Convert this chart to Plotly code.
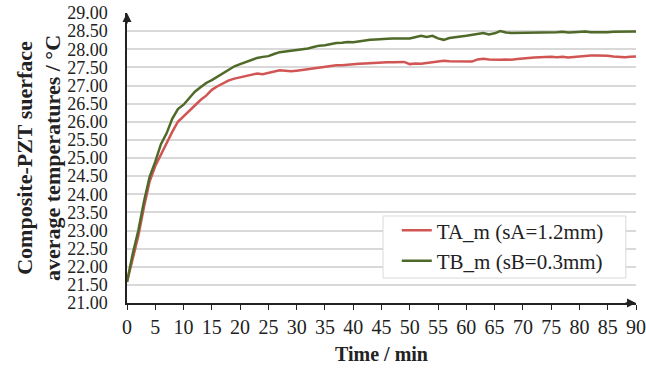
import plotly.graph_objects as go

time_min = list(range(0, 91))

ta_m = [21.58, 22.20, 22.85, 23.65, 24.35, 24.78, 25.10, 25.42, 25.72, 26.00,
        26.15, 26.30, 26.47, 26.60, 26.72, 26.88, 26.98, 27.07, 27.14, 27.19,
        27.23, 27.27, 27.31, 27.33, 27.31, 27.34, 27.38, 27.42, 27.41, 27.39,
        27.41, 27.43, 27.46, 27.47, 27.49, 27.51, 27.53, 27.56, 27.56, 27.58,
        27.58, 27.60, 27.61, 27.62, 27.63, 27.63, 27.64, 27.64, 27.65, 27.65,
        27.59, 27.61, 27.60, 27.62, 27.65, 27.66, 27.68, 27.67, 27.67, 27.66,
        27.65, 27.66, 27.72, 27.74, 27.72, 27.71, 27.71, 27.72, 27.71, 27.73,
        27.75, 27.76, 27.77, 27.78, 27.79, 27.79, 27.78, 27.79, 27.77, 27.79,
        27.81, 27.82, 27.83, 27.83, 27.83, 27.82, 27.80, 27.78, 27.78, 27.79,
        27.80]

tb_m = [21.58, 22.35, 23.00, 23.80, 24.48, 24.90, 25.38, 25.68, 26.08, 26.35,
        26.47, 26.66, 26.83, 26.95, 27.07, 27.15, 27.25, 27.35, 27.44, 27.53,
        27.59, 27.65, 27.69, 27.76, 27.79, 27.81, 27.87, 27.92, 27.94, 27.96,
        27.97, 27.99, 28.02, 28.06, 28.10, 28.11, 28.15, 28.17, 28.18, 28.20,
        28.19, 28.22, 28.24, 28.26, 28.27, 28.29, 28.29, 28.30, 28.31, 28.30,
        28.30, 28.33, 28.37, 28.34, 28.37, 28.30, 28.26, 28.31, 28.34, 28.35,
        28.37, 28.39, 28.42, 28.45, 28.41, 28.44, 28.50, 28.46, 28.45, 28.45,
        28.45, 28.46, 28.45, 28.46, 28.47, 28.46, 28.47, 28.48, 28.46, 28.47,
        28.48, 28.49, 28.47, 28.47, 28.45, 28.47, 28.48, 28.48, 28.49, 28.48,
        28.49]

series_names = ["TA_m (sA=1.2mm)", "TB_m (sB=0.3mm)"]
series_colors = ["#D05553", "#4F6A28"]

x_ticks = list(range(0, 91, 5))
y_ticks = [21 + 0.5 * i for i in range(17)]
y_ticklabels = [f"{v:.2f}" for v in y_ticks]

FONT = "Times New Roman, Liberation Serif, serif"

fig = go.Figure()
for name, vals, col in zip(series_names, [ta_m, tb_m], series_colors):
    fig.add_trace(go.Scatter(x=time_min, y=vals, mode="lines", name=name,
                             line=dict(color=col, width=2.5)))

fig.update_layout(
    width=646, height=372,
    margin=dict(l=127, r=10, t=13, b=69, autoexpand=False),
    paper_bgcolor="white", plot_bgcolor="white",
    font=dict(family=FONT, size=20, color="#222222"),
    showlegend=True,
    legend=dict(x=0.530, y=0.32, xanchor="left", yanchor="top",
                bgcolor="rgba(0,0,0,0)", borderwidth=0,
                font=dict(family=FONT, size=21, color="#222222"),
                tracegroupgap=0),
    xaxis=dict(range=[0, 90], tickvals=x_ticks, ticktext=[str(v) for v in x_ticks],
               automargin=False,
               showgrid=False, zeroline=False, showline=True, linecolor="#222222",
               linewidth=1.5, ticks="outside", ticklen=5, tickcolor="#222222",
               tickwidth=1.2, tickfont=dict(family=FONT, size=20),
               title=dict(text="<b>Time / min</b>", font=dict(family=FONT, size=20),
                          standoff=10)),
    yaxis=dict(range=[21, 29], tickvals=y_ticks, ticktext=y_ticklabels,
               automargin=False,
               showgrid=True, gridcolor="#D9D9D9", gridwidth=1.5, zeroline=False,
               showline=True, linecolor="#222222", linewidth=1.5, ticks="",
               ticklabelstandoff=14, tickfont=dict(family=FONT, size=18),
               title=dict(text="<b>Composite-PZT suerface<br>average temperatures / °C</b>",
                          font=dict(family=FONT, size=22), standoff=0)),
)

# legend frame
fig.add_shape(type="rect", xref="paper", yref="paper", x0=0.503, x1=0.980,
              y0=0.086, y1=0.300, fillcolor="white",
              line=dict(color="#D9D9D9", width=1), layer="above")

# axis arrowheads
fig.add_annotation(x=0, y=29, xref="x", yref="y", ax=0, ay=12, text="",
                   showarrow=True, arrowhead=2, arrowsize=1.2, arrowwidth=1.5,
                   arrowcolor="#222222")
fig.add_annotation(x=90, y=21, xref="x", yref="y", ax=-12, ay=0, text="",
                   showarrow=True, arrowhead=2, arrowsize=1.2, arrowwidth=1.5,
                   arrowcolor="#222222")

fig.write_html("out.html")
